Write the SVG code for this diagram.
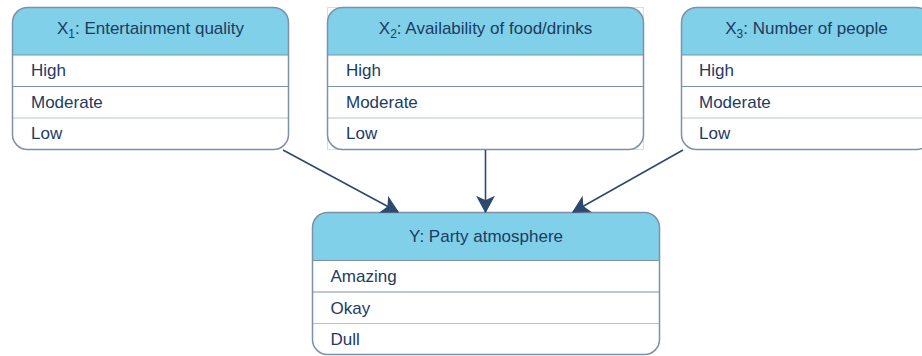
<svg xmlns="http://www.w3.org/2000/svg" width="922" height="356" viewBox="0 0 922 356">
  <style>
    text { font-family: "Liberation Sans", Arial, sans-serif; font-size: 17px; fill: #1d3b63; }
    .head { fill: #7fd0e8; }
    .frame { fill: none; stroke: #7d91a8; stroke-width: 1.5; }
    .body { fill: #ffffff; }
    .sep { stroke: #7d91a8; stroke-width: 1.2; }
    .sep2 { stroke: #b7c3cf; stroke-width: 1.2; }
    .title { text-anchor: middle; }
    .sub { font-size: 12px; }
    .edge { fill: none; stroke: #2c4a6e; stroke-width: 1.6; }
  </style>
  <defs>
    <marker id="arrow" markerUnits="userSpaceOnUse" markerWidth="20" markerHeight="20" viewBox="-13 -8 15 16" refX="0" refY="0" orient="auto">
      <path d="M-12,-6.5 L0,0 L-12,6.5 L-9,0 Z" fill="#2c4a6e" stroke="#2c4a6e" stroke-width="1" stroke-linejoin="miter"/>
    </marker>
  </defs>

  <!-- faint bounding frame behind the food/drinks table -->
  <rect x="327.5" y="7.5" width="316" height="142" fill="none" stroke="#dcdcdc" stroke-width="1"/>

  <g id="x1">
    <rect class="body" x="12.5" y="7.5" width="276" height="142" rx="15"/>
    <path class="head" d="M12.5,55 V22.5 A15,15 0 0 1 27.5,7.5 H273.5 A15,15 0 0 1 288.5,22.5 V55 Z"/>
    <line class="sep" x1="12.5" y1="55" x2="288.5" y2="55"/>
    <line class="sep" x1="12.5" y1="86.5" x2="288.5" y2="86.5"/>
    <line class="sep2" x1="12.5" y1="118" x2="288.5" y2="118"/>
    <rect class="frame" x="12.5" y="7.5" width="276" height="142" rx="15"/>
    <text class="title" x="150.5" y="34">X<tspan class="sub" dy="4">1</tspan><tspan dy="-4">: Entertainment quality</tspan></text>
    <text x="31" y="76">High</text>
    <text x="31" y="107.5">Moderate</text>
    <text x="31" y="139">Low</text>
  </g>

  <g id="x2">
    <rect class="body" x="327.5" y="7.5" width="316" height="142" rx="15"/>
    <path class="head" d="M327.5,55 V22.5 A15,15 0 0 1 342.5,7.5 H628.5 A15,15 0 0 1 643.5,22.5 V55 Z"/>
    <line class="sep" x1="327.5" y1="55" x2="643.5" y2="55"/>
    <line class="sep" x1="327.5" y1="86.5" x2="643.5" y2="86.5"/>
    <line class="sep2" x1="327.5" y1="118" x2="643.5" y2="118"/>
    <rect class="frame" x="327.5" y="7.5" width="316" height="142" rx="15"/>
    <text class="title" x="485.5" y="34">X<tspan class="sub" dy="4">2</tspan><tspan dy="-4">: Availability of food/drinks</tspan></text>
    <text x="346" y="76">High</text>
    <text x="346" y="107.5">Moderate</text>
    <text x="346" y="139">Low</text>
  </g>

  <g id="x3">
    <rect class="body" x="681.5" y="7.5" width="250" height="142" rx="15"/>
    <path class="head" d="M681.5,55 V22.5 A15,15 0 0 1 696.5,7.5 H916.5 A15,15 0 0 1 931.5,22.5 V55 Z"/>
    <line class="sep" x1="681.5" y1="55" x2="931.5" y2="55"/>
    <line class="sep" x1="681.5" y1="86.5" x2="931.5" y2="86.5"/>
    <line class="sep2" x1="681.5" y1="118" x2="931.5" y2="118"/>
    <rect class="frame" x="681.5" y="7.5" width="250" height="142" rx="15"/>
    <text class="title" x="806.5" y="34">X<tspan class="sub" dy="4">3</tspan><tspan dy="-4">: Number of people</tspan></text>
    <text x="699" y="76">High</text>
    <text x="699" y="107.5">Moderate</text>
    <text x="699" y="139">Low</text>
  </g>

  <g id="y">
    <rect class="body" x="312.5" y="212.5" width="347" height="142" rx="15"/>
    <path class="head" d="M312.5,260.5 V227.5 A15,15 0 0 1 327.5,212.5 H644.5 A15,15 0 0 1 659.5,227.5 V260.5 Z"/>
    <line class="sep" x1="312.5" y1="260.5" x2="659.5" y2="260.5"/>
    <line class="sep" x1="312.5" y1="292" x2="659.5" y2="292"/>
    <line class="sep2" x1="312.5" y1="323.5" x2="659.5" y2="323.5"/>
    <rect class="frame" x="312.5" y="212.5" width="347" height="142" rx="15"/>
    <text class="title" x="486" y="242">Y: Party atmosphere</text>
    <text x="330.5" y="282">Amazing</text>
    <text x="330.5" y="313.5">Okay</text>
    <text x="330.5" y="345">Dull</text>
  </g>

  <g id="connectors">
    <line class="edge" x1="283" y1="150" x2="398" y2="212" marker-end="url(#arrow)"/>
    <line class="edge" x1="485.5" y1="150" x2="485.5" y2="212" marker-end="url(#arrow)"/>
    <line class="edge" x1="683" y1="150" x2="573" y2="212" marker-end="url(#arrow)"/>
  </g>
</svg>
